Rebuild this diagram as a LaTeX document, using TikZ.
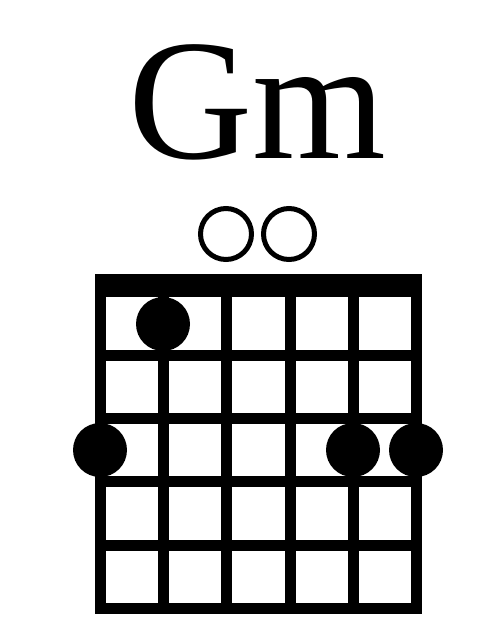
\documentclass[tikz,border=0pt]{standalone}
\usepackage{fontspec}
\setmainfont{Liberation Serif}
\begin{document}
\begin{tikzpicture}[x=1pt,y=-1pt,
  fretline/.style={line width=11pt,line cap=rect},
  fingerdot/.style={circle,fill=black,inner sep=0pt,minimum size=54pt},
  opendot/.style={circle,draw=black,line width=5pt,inner sep=0pt,minimum size=51pt}]
\useasboundingbox (0,0) rectangle (500,625);
\node[anchor=base,inner sep=0pt,font=\fontsize{172pt}{172pt}\selectfont] (title) at (257,158) {Gm};
% nut
\fill (94.5,274) rectangle (421.5,297);
% frets and strings
\foreach \y in {355,418,481,545,608} {
   \draw[fretline] (100,\y) -- (416,\y);
}
\foreach \x in {100,163,226,290,353,416} {
   \draw[fretline] (\x,285) -- (\x,608);
}
% open strings
\node[opendot] (o3) at (226,234) {};
\node[opendot] (o4) at (289,234) {};
% fingers
\node[fingerdot] (f2) at (163,324) {};
\node[fingerdot] (f1) at (100,450) {};
\node[fingerdot] (f5) at (353,450) {};
\node[fingerdot] (f6) at (416,450) {};
\end{tikzpicture}
\end{document}
